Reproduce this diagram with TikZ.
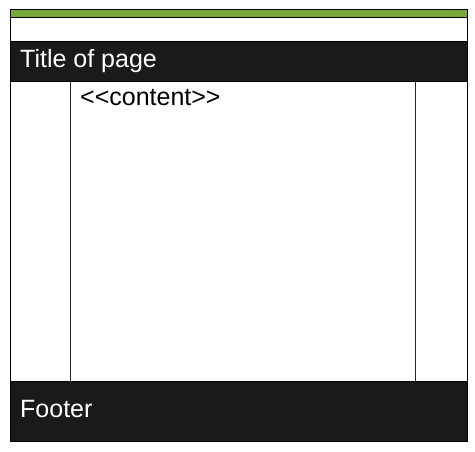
\documentclass[tikz,border=0pt]{standalone}
\usepackage{fontspec}
\setmainfont{Liberation Sans}[Ligatures=NoCommon]
\definecolor{leaf}{HTML}{78A83A}
\definecolor{bar}{HTML}{1A1A1A}
\begin{document}
\begin{tikzpicture}[x=1pt,y=-1pt,
  frame/.style={draw=black,line width=0.8pt},
  band/.style={fill=bar,draw=black,line width=0.8pt},
  label/.style={anchor=base west,inner sep=0pt,font=\fontsize{25}{29}\selectfont},
  divider/.style={draw=black!85,line width=0.8pt}]
\useasboundingbox (0,0) rectangle (475,451);
\fill[white] (0,0) rectangle (475,451);
% green bar
\fill[leaf] (10,9) rectangle (467,17);
\draw[frame] (10,9) rectangle (467,441);
% white strip
\draw[frame] (10,17) -- (467,17);
% title
\draw[band] (10,41) rectangle (467,81);
\node[label,text=white] (title) at (20,67.5) {Title of page};
% content columns
\coordinate (l1) at (70.5,81);
\coordinate (l2) at (70.5,381);
\coordinate (r1) at (415.5,81);
\coordinate (r2) at (415.5,381);
\draw[divider] (l1) -- (l2);
\draw[divider] (r1) -- (r2);
\node[label,text=black] (content) at (80,105) {<{}<content>{}>};
% footer
\draw[band] (10,381) rectangle (467,441);
\node[label,text=white] (footer) at (20,417.5) {Footer};
\end{tikzpicture}
\end{document}
